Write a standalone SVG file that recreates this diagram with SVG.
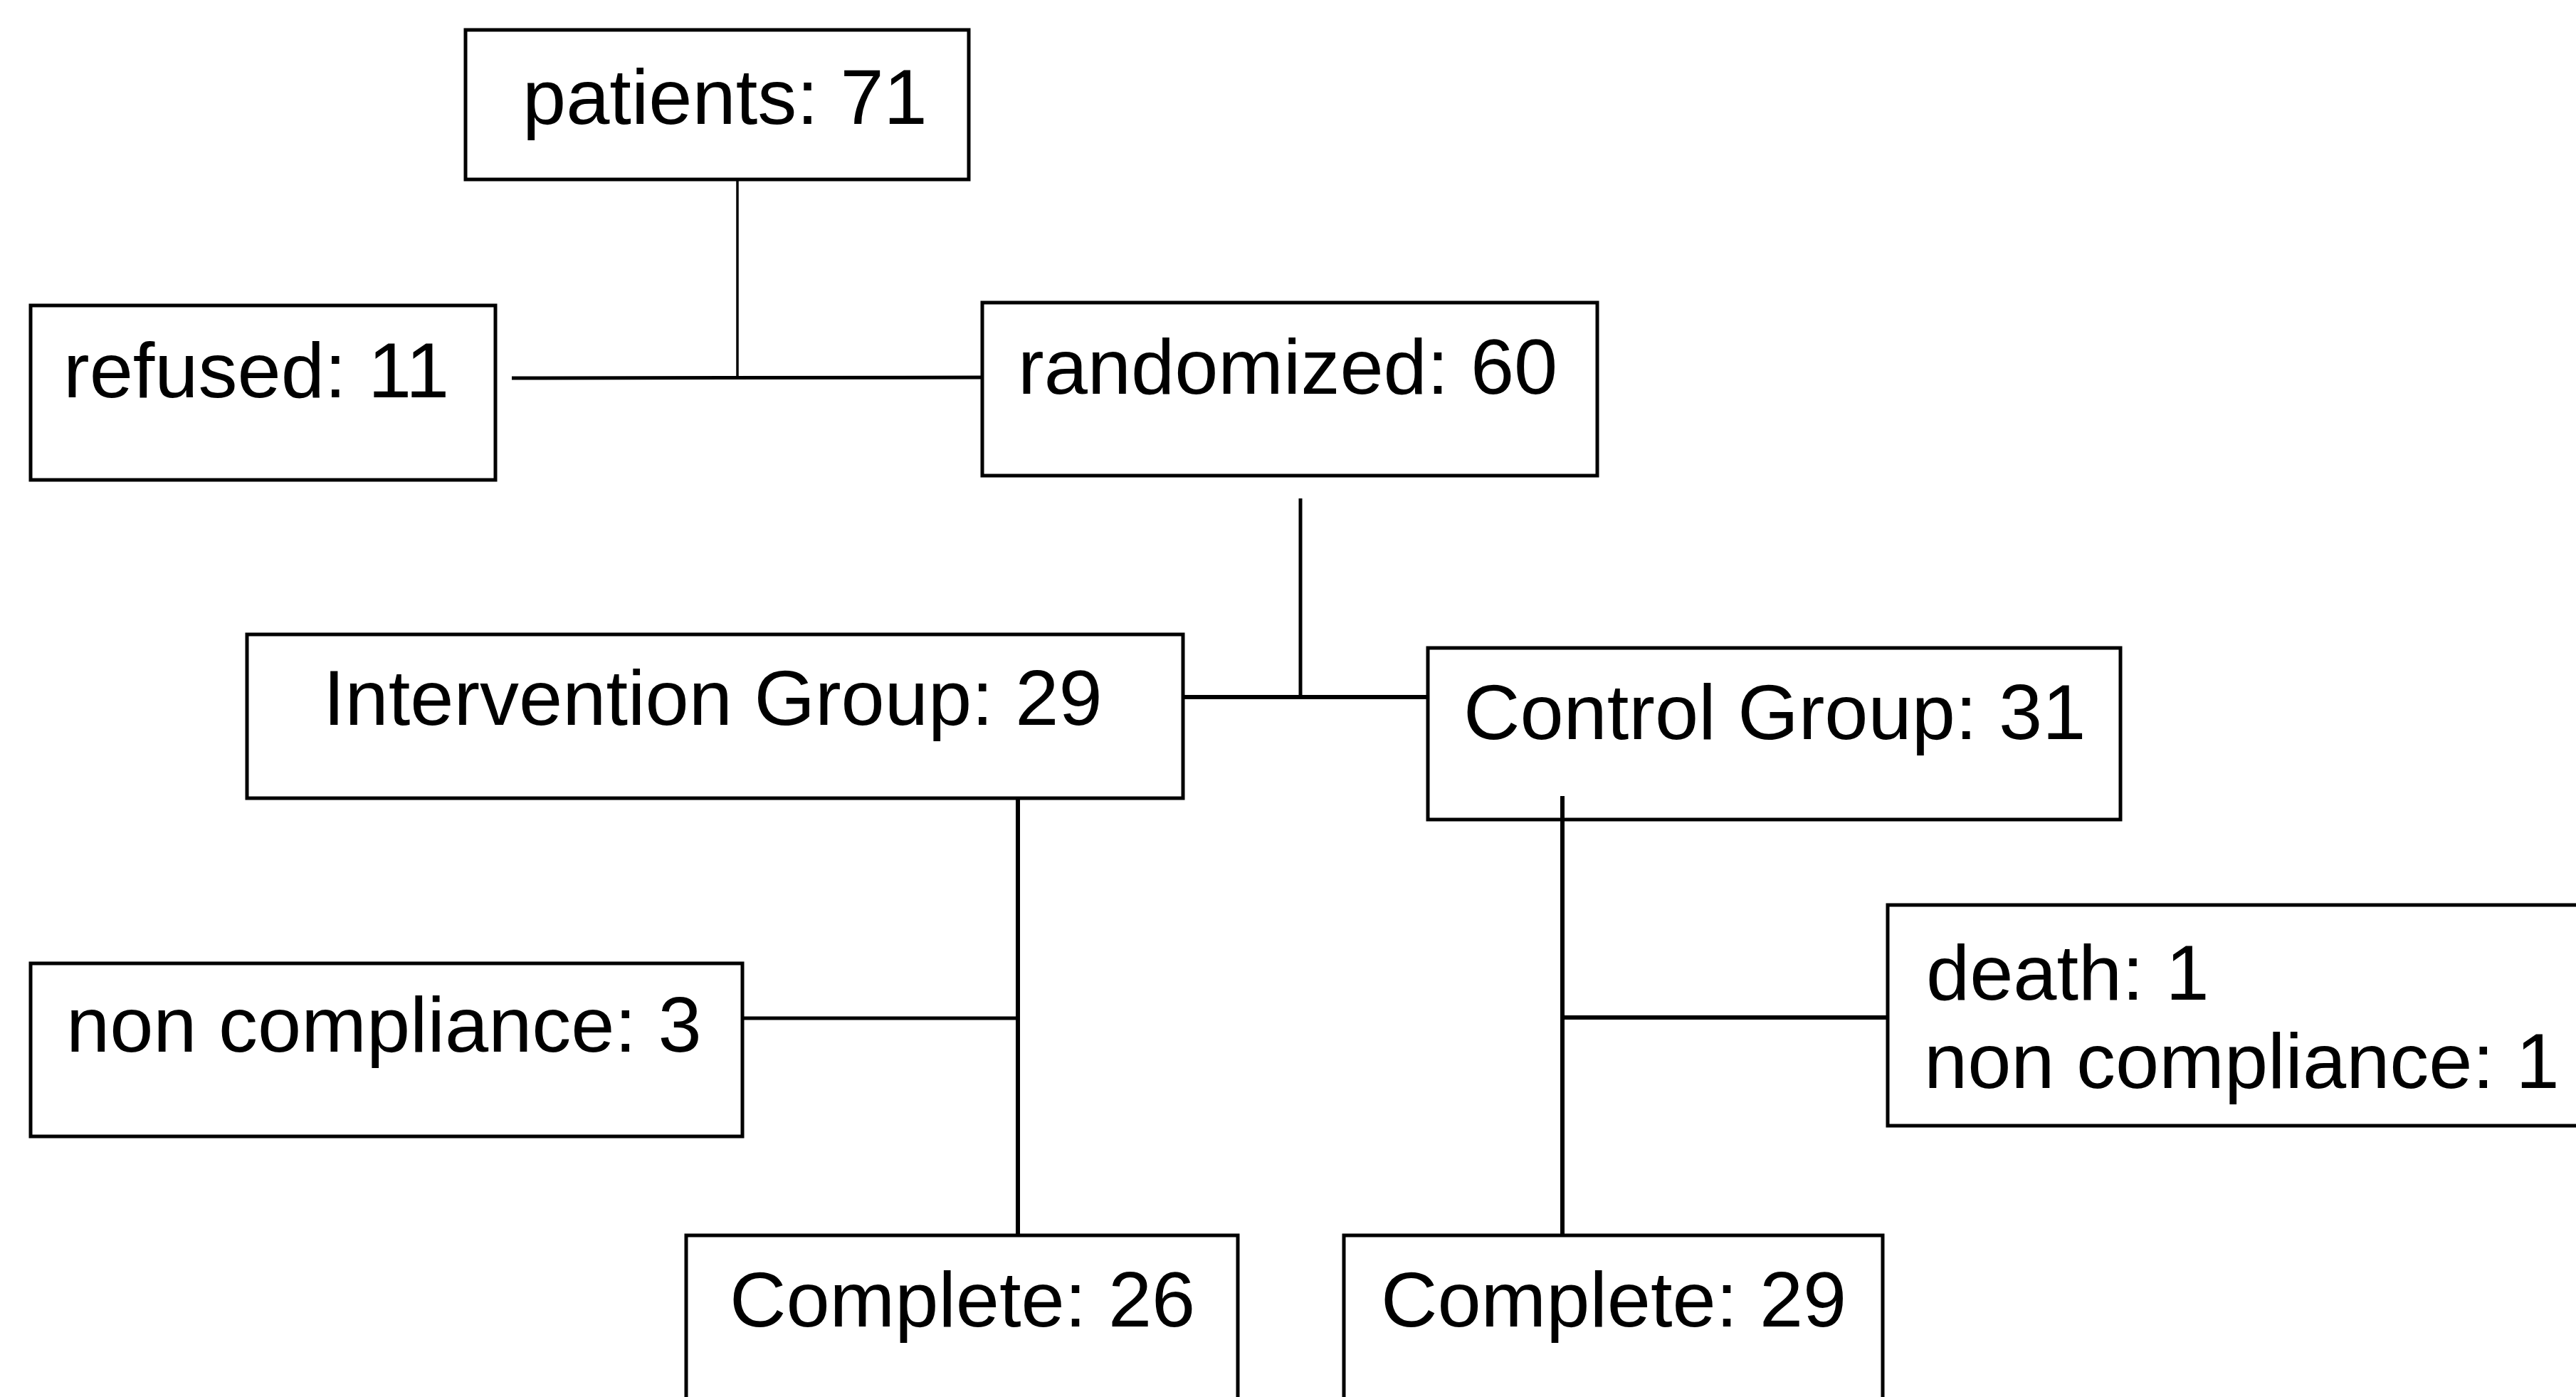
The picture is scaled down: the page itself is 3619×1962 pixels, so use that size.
<svg xmlns="http://www.w3.org/2000/svg" width="3619" height="1962" viewBox="0 0 3619 1962">
<style>
.box{fill:#fff;stroke:#000;stroke-width:5}
.lbl{font-family:"Liberation Sans",Arial,sans-serif;font-size:110px;fill:#000}
.c{stroke:#000;stroke-width:5;fill:none}
.thin{stroke:#000;stroke-width:3.5;fill:none}
.thick{stroke:#000;stroke-width:6;fill:none}
</style>
<rect width="3619" height="1962" fill="#fff"/>
<g id="patients">
<rect class="box" x="654" y="42" width="707" height="210"/>
<text class="lbl" x="734" y="174">patients: 71</text>
</g>
<g id="refused">
<rect class="box" x="43" y="429" width="653" height="245"/>
<text class="lbl" x="89" y="558">refused: 11</text>
</g>
<g id="randomized">
<rect class="box" x="1380" y="425" width="864" height="243"/>
<text class="lbl" x="1430" y="553">randomized: 60</text>
</g>
<g id="intervention">
<rect class="box" x="347" y="891" width="1315" height="230"/>
<text class="lbl" x="454" y="1018">Intervention Group: 29</text>
</g>
<g id="control">
<rect class="box" x="2006" y="910" width="973" height="241"/>
<text class="lbl" x="2056" y="1038">Control Group: 31</text>
</g>
<g id="noncompliance3">
<rect class="box" x="43" y="1353" width="1000" height="243"/>
<text class="lbl" x="93" y="1477">non compliance: 3</text>
</g>
<g id="death">
<rect class="box" x="2652" y="1271" width="1000" height="310"/>
<text class="lbl" x="2706" y="1404">death: 1</text>
<text class="lbl" x="2703" y="1528">non compliance: 1</text>
</g>
<g id="complete26">
<rect class="box" x="964" y="1735" width="775" height="300"/>
<text class="lbl" x="1025" y="1863">Complete: 26</text>
</g>
<g id="complete29">
<rect class="box" x="1888" y="1735" width="757" height="300"/>
<text class="lbl" x="1940" y="1863">Complete: 29</text>
</g>
<g id="connectors">
<line class="thin" x1="1036" y1="252" x2="1036" y2="531"/>
<line class="c" x1="719" y1="531" x2="1380" y2="530"/>
<line class="c" x1="1827" y1="700" x2="1827" y2="979"/>
<line class="thick" x1="1662" y1="979" x2="2007" y2="979"/>
<line class="thick" x1="1430" y1="1121" x2="1430" y2="1735"/>
<line class="c" x1="1043" y1="1430" x2="1430" y2="1430"/>
<line class="thick" x1="2195" y1="1118" x2="2195" y2="1735"/>
<line class="thick" x1="2195" y1="1429" x2="2652" y2="1429"/>
</g>
</svg>
